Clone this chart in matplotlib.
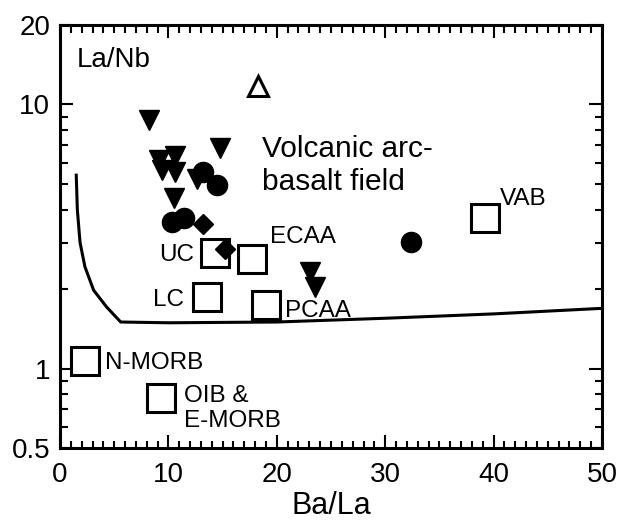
import matplotlib
matplotlib.use("Agg")
import matplotlib.pyplot as plt
from matplotlib.ticker import MultipleLocator, FixedLocator, NullFormatter

plt.rcParams['font.family'] = ['Liberation Sans', 'DejaVu Sans']

# boundary of the volcanic arc-basalt field
boundary_ba_la = [1.5, 1.6, 1.85, 2.3, 3.1, 4.3, 5.6, 10, 20, 30, 40, 50]
boundary_la_nb = [5.4, 4.0, 3.0, 2.43, 1.98, 1.71, 1.50, 1.49, 1.50, 1.55, 1.61, 1.69]

# samples
tri_ba_la = [8.2, 14.8, 9.1, 9.4, 10.6, 10.6, 12.6, 10.5, 23.1, 23.5]
tri_la_nb = [8.7, 6.85, 6.15, 5.64, 6.39, 5.56, 5.24, 4.44, 2.32, 2.03]
circ_ba_la = [13.2, 14.5, 10.3, 11.4, 32.4]
circ_la_nb = [5.56, 4.95, 3.60, 3.70, 3.02]
dia_ba_la = [13.2, 15.2]
dia_la_nb = [3.54, 2.83]
open_tri_ba_la = [18.3]
open_tri_la_nb = [11.8]

# reference reservoirs
ref_names = ["UC", "ECAA", "LC", "PCAA", "N-MORB", "OIB & E-MORB", "VAB"]
ref_ba_la = [14.3, 17.7, 13.6, 19.0, 2.3, 9.3, 39.2]
ref_la_nb = [2.74, 2.61, 1.86, 1.74, 1.07, 0.77, 3.72]


def main():
    fig = plt.figure(figsize=(6.21, 5.2), dpi=100)
    ax = fig.add_axes([0.0966, 0.1385, 0.8728, 0.8134])

    ax.plot(boundary_ba_la, boundary_la_nb, color='black', linewidth=2.2, zorder=2)

    ax.plot(ref_ba_la, ref_la_nb, linestyle='none', marker='s', markersize=20,
            markerfacecolor='white', markeredgecolor='black', markeredgewidth=2.2, zorder=3)
    ax.plot(tri_ba_la, tri_la_nb, linestyle='none', marker='v', markersize=14.5,
            color='black', zorder=4)
    ax.plot(circ_ba_la, circ_la_nb, linestyle='none', marker='o', markersize=14.5,
            color='black', zorder=5)
    ax.plot(dia_ba_la, dia_la_nb, linestyle='none', marker='D', markersize=9.8,
            color='black', zorder=6)
    ax.plot(open_tri_ba_la, open_tri_la_nb, linestyle='none', marker='^', markersize=14,
            markerfacecolor='white', markeredgecolor='black', markeredgewidth=2.2, zorder=6)

    # labels of the reference reservoirs
    lab = dict(fontsize=17.5, va='baseline', zorder=7)
    ax.text(12.4, 2.55, "UC", ha='right', **lab)
    ax.text(19.4, 2.98, "ECAA", ha='left', **lab)
    ax.text(11.4, 1.72, "LC", ha='right', **lab)
    ax.text(20.8, 1.57, "PCAA", ha='left', **lab)
    ax.text(4.15, 0.993, "N-MORB", ha='left', **lab)
    ax.text(11.4, 0.745, "OIB &", ha='left', **lab)
    ax.text(11.4, 0.598, "E-MORB", ha='left', **lab)
    ax.text(40.6, 4.16, "VAB", ha='left', **lab)

    ax.text(18.6, 6.33, "Volcanic arc-", fontsize=21.5, va='baseline')
    ax.text(18.6, 4.74, "basalt field", fontsize=21.5, va='baseline')
    ax.text(1.54, 13.84, "La/Nb", fontsize=20, va='baseline')

    ax.set_yscale('log')
    ax.set_xlim(0, 50)
    ax.set_ylim(0.5, 20)

    ax.xaxis.set_major_locator(MultipleLocator(10))
    ax.xaxis.set_minor_locator(MultipleLocator(1))
    ax.yaxis.set_major_locator(FixedLocator([0.5, 1, 10, 20]))
    ax.yaxis.set_minor_locator(FixedLocator([0.6, 0.7, 0.8, 0.9, 2, 3, 4, 5, 6, 7, 8, 9]))
    ax.yaxis.set_minor_formatter(NullFormatter())
    ax.set_yticklabels(["0.5", "1", "10", "20"])

    ax.tick_params(which='both', direction='in', top=True, right=True, width=1.5,
                   labelsize=20)
    ax.tick_params(which='major', length=9.4)
    ax.tick_params(which='minor', length=5.4)
    ax.tick_params(axis='x', pad=10)
    ax.tick_params(axis='y', pad=7)

    for spine in ax.spines.values():
        spine.set_linewidth(2.2)

    ax.set_xlabel("Ba/La", fontsize=22, labelpad=2)

    fig.savefig("out.png", dpi=100)


if __name__ == "__main__":
    main()
